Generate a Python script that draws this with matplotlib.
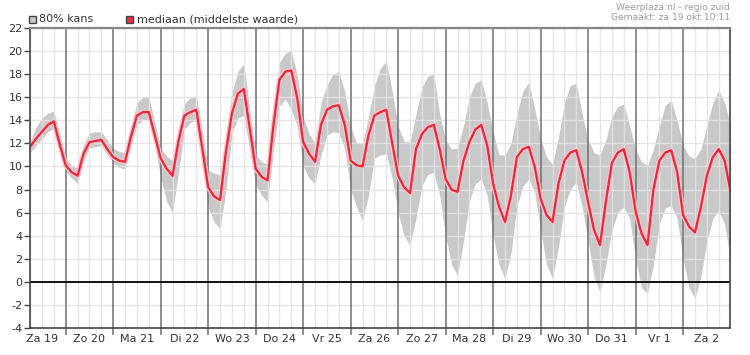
import numpy as np
import matplotlib
matplotlib.use("Agg")
import matplotlib.pyplot as plt
import matplotlib.patheffects as pe
from matplotlib.patches import Rectangle

plt.rcParams['font.family'] = ['DejaVu Sans']

# ---- data (3-hourly, hours since Za 19 00:00) ----
hours = list(range(6, 361, 3))
median = [11.7, 12.4, 13.0, 13.6, 13.9, 11.9, 10.1, 9.5, 9.2, 11.1, 12.1, 12.2, 12.3, 11.5,
          10.8, 10.5, 10.4, 12.6, 14.4, 14.7, 14.7, 12.7, 10.7, 9.8, 9.2, 12.2, 14.4, 14.7,
          14.9, 11.6, 8.2, 7.4, 7.1, 11.3, 14.6, 16.3, 16.7, 13.3, 9.8, 9.1, 8.8, 13.6, 17.5,
          18.2, 18.3, 15.9, 12.1, 11.1, 10.4, 13.6, 14.9, 15.2, 15.3, 13.6, 10.5, 10.1, 10.0,
          12.7, 14.4, 14.7, 14.9, 12.0, 9.2, 8.2, 7.7, 11.5, 12.8, 13.4, 13.6, 11.5, 8.9, 8.0,
          7.8, 10.5, 12.1, 13.2, 13.6, 11.8, 8.5, 6.5, 5.2, 7.5, 10.8, 11.5, 11.7, 10.0, 7.2,
          5.8, 5.2, 8.5, 10.5, 11.2, 11.4, 9.5, 6.9, 4.5, 3.2, 7.0, 10.3, 11.2, 11.5, 9.5, 6.1,
          4.2, 3.2, 8.0, 10.5, 11.2, 11.4, 9.5, 5.8, 4.8, 4.3, 6.5, 9.2, 10.8, 11.5, 10.5, 7.8]
upper = [12.2, 13.4, 14.2, 14.6, 14.8, 12.8, 10.8, 10.1, 9.8, 11.9, 12.9, 13.0, 13.0, 12.3,
         11.6, 11.3, 11.2, 13.6, 15.5, 16.0, 16.0, 13.8, 11.6, 10.9, 10.5, 13.4, 15.4, 16.0,
         16.1, 13.2, 9.7, 9.4, 9.3, 12.8, 16.4, 18.2, 18.9, 15.0, 11.0, 10.4, 10.2, 15.3, 19.0,
         19.8, 20.0, 17.9, 14.3, 12.8, 12.0, 15.5, 17.0, 18.0, 18.2, 16.5, 13.5, 12.0, 12.0,
         14.3, 17.0, 18.5, 19.1, 16.5, 13.5, 12.2, 12.1, 14.5, 16.8, 17.8, 18.0, 14.5, 12.3, 11.5,
         11.6, 13.5, 16.0, 17.2, 17.5, 15.5, 13.0, 11.0, 11.0, 12.0, 14.5, 16.5, 17.3, 15.0, 12.5,
         10.8, 10.2, 12.5, 15.5, 17.0, 17.2, 14.5, 12.3, 11.2, 11.0, 12.3, 14.3, 15.2, 15.4, 13.5, 11.5,
         10.4, 10.1, 11.5, 13.5, 15.3, 15.7, 14.0, 11.8, 10.9, 10.7, 11.5, 13.5, 15.5, 16.6, 15.5, 13.6]
lower = [11.2, 11.8, 12.4, 13.0, 13.3, 11.2, 9.6, 9.0, 8.5, 10.5, 11.6, 11.7, 11.8, 11.0,
         10.3, 9.9, 9.8, 11.9, 13.6, 14.0, 14.1, 11.8, 9.0, 7.0, 6.0, 9.5, 13.2, 13.8,
         14.0, 10.3, 6.5, 5.2, 4.6, 8.0, 12.8, 14.2, 14.4, 11.4, 8.4, 7.5, 6.9, 11.5, 15.2,
         15.8, 14.9, 13.5, 10.0, 9.0, 8.5, 11.0, 12.7, 13.0, 12.9, 11.5, 8.0, 6.5, 5.3,
         7.5, 10.7, 11.0, 11.1, 9.0, 6.0, 4.0, 3.2, 5.5, 8.3, 9.3, 9.5, 7.5, 4.0, 1.5,
         0.6, 3.5, 7.0, 8.5, 8.9, 7.5, 4.0, 1.5, 0.3, 2.5, 6.5, 8.3, 8.9, 7.8, 4.5,
         1.5, 0.3, 3.0, 6.5, 8.0, 8.7, 6.5, 3.5, 0.5, -0.9, 1.5, 4.5, 6.0, 6.5, 5.5, 2.0,
         -0.5, -1.0, 1.5, 5.0, 6.4, 6.6, 5.5, 2.0, -0.5, -1.4, 0.5, 3.5, 5.5, 6.2, 5.0, 1.8]
day_labels = ['Za 19', 'Zo 20', 'Ma 21', 'Di 22', 'Wo 23', 'Do 24', 'Vr 25', 'Za 26',
              'Zo 27', 'Ma 28', 'Di 29', 'Wo 30', 'Do 31', 'Vr 1', 'Za 2']
y_ticks = list(range(-4, 23, 2))

W, H = 750, 355
fig = plt.figure(figsize=(W / 100, H / 100), dpi=100)
ax = fig.add_axes([29.5 / W, 1 - 328.3 / H, (730 - 29.5) / W, (328.3 - 27.7) / H])

ax.set_xlim(5.7, 359.7)
ax.set_ylim(-4, 22)

# band
ax.fill_between(hours, lower, upper, color='#c9c9c9', lw=0, zorder=1)

# grid
for h in range(6, 361, 6):
    if h % 24 != 0:
        ax.axvline(h, color='#e2e2e2', lw=1.0, zorder=2, alpha=0.85)
for y in y_ticks:
    ax.axhline(y, color='#e2e2e2', lw=1.0, zorder=2, alpha=0.85)
for d in range(1, 15):
    ax.axvline(24 * d, color='#707070', lw=1.1, zorder=3)
ax.axhline(0, color='#111111', lw=1.4, zorder=4)

# median line with light halo
ax.plot(hours, median, color='#e8283c', lw=1.6, zorder=6, solid_joinstyle='round',
        path_effects=[pe.Stroke(linewidth=3.6, foreground='#f6c4c9'), pe.Normal()])

# spines
for s in ['left', 'bottom', 'right']:
    ax.spines[s].set_color('#444444')
    ax.spines[s].set_linewidth(1.2)
ax.spines['top'].set_color('#888888')
ax.spines['top'].set_linewidth(1.6)
for s in ax.spines.values():
    s.set_zorder(7)

# ticks
ax.set_yticks(y_ticks)
ax.set_yticklabels([str(v) for v in y_ticks])
ax.tick_params(axis='y', length=4, width=1, color='#444444', labelsize=8,
               labelcolor='#333333', pad=1)
ax.set_xticks([24 * d for d in range(1, 15)])
ax.set_xticklabels([])
ax.tick_params(axis='x', which='major', length=5, width=1.1, color='#707070')
ax.set_xticks([12 + 24 * d for d in range(15)], minor=True)
ax.set_xticklabels(day_labels, minor=True)
ax.tick_params(axis='x', which='minor', length=0, labelsize=8, labelcolor='#333333', pad=4)

# legend
def box(x, color):
    fig.patches.append(Rectangle((x / W, 1 - 23 / H), 7 / W, 7 / H, transform=fig.transFigure,
                                 facecolor=color, edgecolor='#444444', lw=1.0))

box(28.5, '#c9c9c9')
fig.text(39 / W, 1 - 19 / H, '80% kans', fontsize=8, color='#333333', va='center', ha='left')
box(125.5, '#e8313f')
fig.text(137 / W, 1 - 19 / H, 'mediaan (middelste waarde)', fontsize=8, color='#333333',
         va='center', ha='left')

fig.text(730 / W, 1 - 8 / H, 'Weerplaza.nl - regio zuid', fontsize=6.6, color='#9a9a9a',
         va='center', ha='right')
fig.text(730 / W, 1 - 18 / H, 'Gemaakt: za 19 okt 10:11', fontsize=6.6, color='#9a9a9a',
         va='center', ha='right')

fig.savefig('out.png', dpi=100, facecolor='white')
